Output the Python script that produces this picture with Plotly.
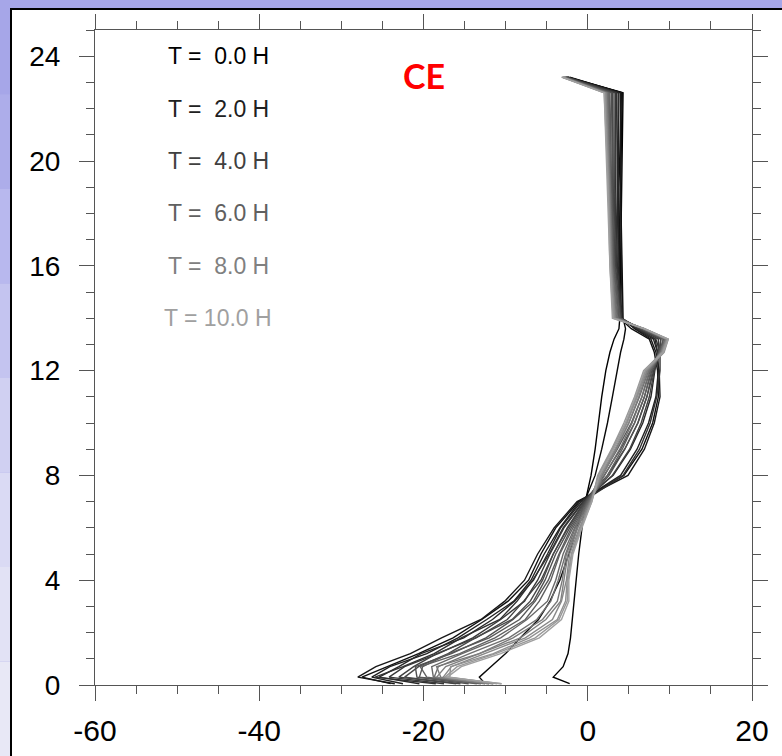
import plotly.graph_objects as go

# Height levels (km) shared by every wind profile
heights = [0.05, 0.3, 0.7, 1.2, 1.8, 2.5, 3.2, 4.0, 5.0, 6.0, 7.0, 8.0,
           9.0, 10.0, 11.0, 12.0, 12.7, 13.2, 13.6, 14.0, 16.0, 19.0, 22.6, 23.2]

# Output times (hours)
times = [0.0, 0.5, 1.0, 1.5, 2.0, 2.5, 3.0, 3.5, 4.0, 4.5, 5.0,
         5.5, 6.0, 6.5, 7.0, 7.5, 8.0, 8.5, 9.0, 9.5, 10.0]

# Wind component profiles (m/s), one per output time
u_t00_0 = [-2.2, -4.2, -3.0, -2.4, -2.1, -1.9, -1.7, -1.4, -1.1, -0.7, -0.3, 0.4,
           0.9, 1.3, 1.7, 2.2, 2.7, 3.2, 3.8, 3.9, 4.0, 4.1, 4.3, -2.4]
u_t00_5 = [-12.5, -13.2, -11.8, -10.0, -8.2, -6.0, -4.6, -3.4, -2.3, -1.3, -0.4, 0.9,
           1.7, 2.4, 3.0, 3.6, 4.0, 4.4, 4.6, 4.3, 4.2, 4.0, 4.2, -2.6]
u_t01_0 = [-24.0, -27.5, -24.4, -20.6, -16.4, -12.9, -9.7, -7.2, -5.7, -3.9, -1.1, 4.4,
           6.6, 7.9, 8.6, 8.5, 8.1, 7.5, 5.3, 3.9, 3.9, 3.8, 4.1, -2.2]
u_t01_5 = [-23.5, -28.0, -25.8, -21.6, -17.8, -13.0, -10.1, -7.7, -6.1, -4.1, -1.3, 4.9,
           6.9, 8.1, 8.8, 8.7, 8.3, 7.7, 5.7, 4.2, 4.1, 4.0, 4.0, -2.4]
u_t02_0 = [-22.5, -26.3, -24.1, -19.6, -15.8, -12.3, -9.0, -6.9, -5.3, -3.4, -1.0, 4.0,
           6.0, 7.4, 8.3, 8.6, 8.5, 8.0, 5.8, 4.0, 3.8, 3.7, 3.8, -2.5]
u_t02_5 = [-20.5, -25.4, -23.0, -20.3, -15.1, -11.6, -8.9, -6.6, -4.9, -3.3, -0.8, 3.1,
           5.2, 6.7, 7.7, 8.2, 8.5, 8.2, 6.0, 4.2, 3.7, 3.6, 3.7, -2.6]
u_t03_0 = [-18.5, -25.9, -22.5, -18.7, -15.4, -10.7, -8.6, -6.7, -4.7, -3.0, -0.6, 4.3,
           6.3, 7.6, 8.4, 8.8, 8.8, 8.3, 6.0, 4.0, 3.6, 3.4, 3.5, -2.5]
u_t03_5 = [-17.5, -24.2, -22.3, -18.2, -14.0, -10.6, -7.7, -6.1, -4.6, -2.9, -0.5, 2.4,
           4.5, 6.1, 7.2, 8.0, 8.6, 8.6, 6.2, 4.1, 3.5, 3.3, 3.4, -2.7]
u_t04_0 = [-16.0, -23.0, -21.2, -18.4, -13.6, -9.8, -7.8, -5.7, -4.2, -2.5, -0.4, 3.0,
           5.1, 6.5, 7.5, 8.1, 8.8, 8.9, 6.3, 3.9, 3.4, 3.2, 3.2, -2.6]
u_t04_5 = [-15.5, -22.3, -20.6, -17.0, -13.7, -9.2, -7.0, -5.5, -4.2, -2.4, -0.3, 2.0,
           4.0, 5.7, 6.9, 7.8, 8.6, 8.9, 6.4, 4.0, 3.3, 3.1, 3.0, -2.8]
u_t05_0 = [-14.5, -20.8, -21.0, -16.6, -12.4, -9.1, -6.6, -5.2, -3.9, -2.2, -0.2, 2.6,
           4.5, 6.1, 7.2, 7.9, 8.9, 9.2, 6.5, 3.8, 3.2, 3.0, 2.9, -2.7]
u_t05_5 = [-13.0, -20.5, -20.1, -16.9, -12.0, -8.3, -6.4, -4.8, -3.5, -2.0, -0.1, 1.8,
           3.6, 5.3, 6.6, 7.6, 8.7, 9.2, 6.6, 3.9, 3.2, 2.9, 2.7, -2.9]
u_t06_0 = [-13.5, -19.6, -20.4, -15.6, -11.3, -7.6, -5.9, -4.5, -3.4, -1.8, 0.0, 2.4,
           4.2, 5.7, 6.9, 7.7, 9.0, 9.4, 6.6, 3.7, 3.1, 2.8, 2.6, -2.8]
u_t06_5 = [-12.5, -18.8, -19.0, -15.3, -10.6, -7.4, -4.9, -3.9, -3.0, -1.6, 0.1, 1.6,
           3.4, 5.0, 6.3, 7.4, 8.8, 9.4, 6.7, 3.6, 3.0, 2.8, 2.5, -3.0]
u_t07_0 = [-12.0, -18.7, -18.2, -14.4, -9.6, -6.2, -4.5, -3.6, -2.7, -1.5, 0.2, 2.1,
           3.9, 5.4, 6.6, 7.5, 9.1, 9.6, 6.8, 3.5, 3.0, 2.7, 2.4, -2.9]
u_t07_5 = [-11.5, -17.9, -18.4, -13.2, -9.1, -5.5, -3.7, -3.1, -2.6, -1.3, 0.3, 1.4,
           3.1, 4.7, 6.0, 7.2, 8.9, 9.5, 6.8, 3.4, 2.9, 2.7, 2.3, -3.0]
u_t08_0 = [-12.0, -18.4, -17.3, -13.1, -8.2, -5.1, -3.3, -2.9, -2.4, -1.2, 0.3, 1.8,
           3.5, 5.0, 6.2, 7.3, 9.2, 9.7, 6.9, 3.3, 2.9, 2.6, 2.2, -3.1]
u_t08_5 = [-11.5, -17.6, -16.6, -12.4, -7.6, -4.3, -3.2, -2.6, -2.2, -1.0, 0.4, 1.3,
           3.0, 4.6, 5.9, 7.0, 9.0, 9.6, 6.8, 3.3, 2.8, 2.6, 2.2, -3.0]
u_t09_0 = [-11.0, -16.8, -16.7, -11.5, -7.1, -3.7, -2.7, -2.5, -2.0, -0.9, 0.4, 1.6,
           3.3, 4.8, 6.0, 7.1, 9.3, 9.8, 6.9, 3.2, 2.8, 2.5, 2.1, -3.1]
u_t09_5 = [-10.5, -17.4, -15.9, -11.2, -6.4, -3.5, -2.5, -2.4, -1.9, -0.8, 0.5, 1.2,
           2.9, 4.4, 5.7, 6.8, 9.1, 9.7, 6.8, 3.1, 2.7, 2.5, 2.0, -3.2]
u_t10_0 = [-10.5, -17.1, -15.4, -10.6, -5.9, -3.2, -2.3, -2.3, -1.8, -0.7, 0.5, 1.4,
           3.1, 4.6, 5.8, 6.9, 9.2, 9.8, 6.9, 3.0, 2.7, 2.4, 2.0, -3.1]

profiles = [u_t00_0, u_t00_5, u_t01_0, u_t01_5, u_t02_0, u_t02_5, u_t03_0,
            u_t03_5, u_t04_0, u_t04_5, u_t05_0, u_t05_5, u_t06_0, u_t06_5,
            u_t07_0, u_t07_5, u_t08_0, u_t08_5, u_t09_0, u_t09_5, u_t10_0]

# Key labels: time and the height at which each label sits
label_times = [0.0, 2.0, 4.0, 6.0, 8.0, 10.0]
label_heights = [24, 22, 20, 18, 16, 14]

x_ticks = [-60, -40, -20, 0, 20]
x_tick_text = ["-60", "-40", "-20", "0", "20"]
y_ticks = [0, 4, 8, 12, 16, 20, 24]


def shade(t):
    # black at the start, fading to light grey by 10 h
    g = int(round(t * 16))
    return f"rgb({g},{g},{g})"


fig = go.Figure()

for t, u in zip(times, profiles):
    fig.add_trace(go.Scatter(
        x=u, y=heights, mode="lines",
        line=dict(color=shade(t), width=1.4),
        showlegend=False, hoverinfo="skip",
    ))

for t, h in zip(label_times, label_heights):
    sp = "\u00a0\u00a0" if t < 10 else "\u00a0"
    fig.add_annotation(
        x=-45, y=h, xref="x", yref="y", showarrow=False,
        text=f"T ={sp}{t:.1f} H", xanchor="center", yanchor="middle",
        font=dict(family="Liberation Sans, Arial, sans-serif", size=23, color=shade(t)),
    )

fig.add_annotation(
    x=-20, y=23.25, xref="x", yref="y", showarrow=False, text="<b>CE</b>",
    xanchor="center", yanchor="middle",
    font=dict(family="Lato, Open Sans, sans-serif", size=34, color="#ff0000"),
)

# Slide-style backdrop: lavender border strip with a white panel
shapes = []
band_cols = ["#a6a6e8", "#adadea", "#b8b8ee", "#c4c4f0", "#d0d0f2",
             "#dadaf4", "#e2e2f5", "#e8e8f6"]
n = len(band_cols)
y_lo, y_hi = -71 / 655, 1 + 30 / 655
for i, c in enumerate(band_cols):
    y1 = y_hi - i * (y_hi - y_lo) / n
    y0 = y_hi - (i + 1) * (y_hi - y_lo) / n
    shapes.append(dict(type="rect", xref="paper", yref="paper",
                       x0=-95 / 657, x1=-84 / 657, y0=y0, y1=y1,
                       fillcolor=c, line=dict(width=0), layer="below"))
shapes.append(dict(type="rect", xref="paper", yref="paper",
                   x0=-84 / 657, x1=1 + 60 / 657, y0=-100 / 655, y1=1 + 21 / 655,
                   fillcolor="white", line=dict(color="black", width=2), layer="below"))

axis_common = dict(
    showgrid=False, zeroline=False, showline=True, linecolor="#555555",
    linewidth=1, ticks="outside", tickcolor="#555555", tickwidth=1,
    mirror="ticks", automargin=False,
)

fig.update_layout(
    width=782, height=756, autosize=False,
    margin=dict(l=95, r=30, t=30, b=71),
    paper_bgcolor="#a6a6e8", plot_bgcolor="white",
    shapes=shapes,
    xaxis=dict(
        range=[-60, 20], tickvals=x_ticks, ticktext=x_tick_text, ticklen=15,
        minor=dict(dtick=5, ticks="outside", ticklen=8, tickcolor="#555555"),
        tickfont=dict(family="Liberation Sans, Arial, sans-serif", size=30, color="black"),
        ticklabelstandoff=4,
        **axis_common,
    ),
    yaxis=dict(
        range=[0, 25], tickvals=y_ticks, ticklen=15,
        minor=dict(dtick=1, ticks="outside", ticklen=8, tickcolor="#555555"),
        tickfont=dict(family="Liberation Sans, Arial, sans-serif", size=28, color="black"),
        ticklabelstandoff=13,
        **axis_common,
    ),
)

fig.write_html("out.html")
